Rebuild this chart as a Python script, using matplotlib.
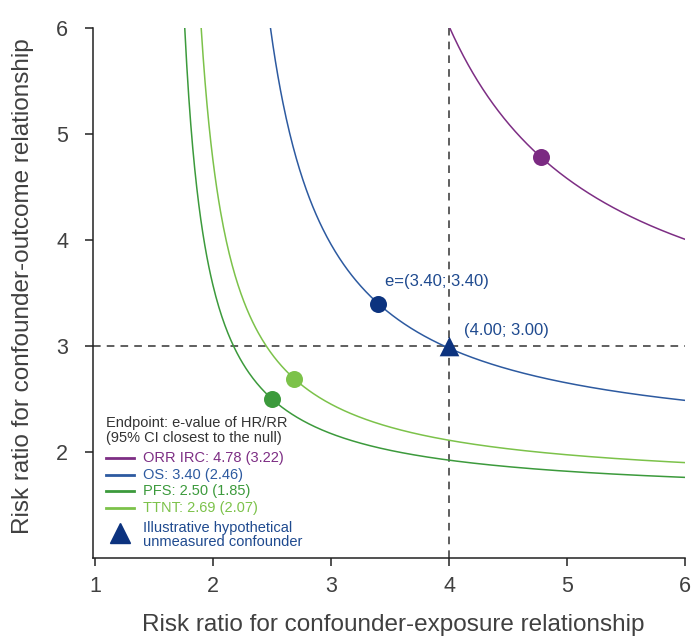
import numpy as np
import matplotlib.pyplot as plt
from matplotlib.lines import Line2D

plt.rcParams['font.family'] = ['Liberation Sans', 'DejaVu Sans']

# e-values per endpoint (point estimate, CI closest to the null)
endpoints = ["ORR IRC", "OS", "PFS", "TTNT"]
e_values = [4.78, 3.40, 2.50, 2.69]
e_ci = [3.22, 2.46, 1.85, 2.07]
line_colors = ["#7d2e84", "#2d5aa0", "#3c9a3c", "#7cc24a"]
dot_colors = ["#7b2a82", "#0c337f", "#3c9a3c", "#7cc24a"]

# illustrative hypothetical unmeasured confounder
conf_x, conf_y = 4.00, 3.00

xmax, ymax = 6, 6
W, H = 698, 638


def fpx(px, py):
    # figure pixel -> figure fraction
    return px / W, 1 - py / H


fig = plt.figure(figsize=(W / 100, H / 100), dpi=100)
ax = fig.add_axes([93 / W, 1 - 558 / H, 592 / W, 530 / H])

ax.axvline(conf_x, color="#333333", lw=1.1, ls=(0, (5, 4)), zorder=1)
ax.axhline(conf_y, color="#333333", lw=1.1, ls=(0, (5, 4)), zorder=1)

for name, e, ci, lc, dc in zip(endpoints, e_values, e_ci, line_colors, dot_colors):
    # risk ratio that this e-value explains away: RR = e^2 / (2e - 1)
    rr = e ** 2 / (2 * e - 1)
    x0 = rr * (ymax - 1) / (ymax - rr)
    xs = np.linspace(x0, xmax, 500)
    ys = rr * (xs - 1) / (xs - rr)
    ax.plot(xs, ys, color=lc, lw=1.1, zorder=2)
    ax.scatter([e], [e], s=150, color=dc, zorder=3, linewidths=0)

ax.scatter([conf_x], [conf_y], marker="^", s=200, color="#0c337f", zorder=4, linewidths=0)

os_e = e_values[1]
ax.text(os_e + 0.06, os_e + 0.21, f"e=({os_e:.2f}; {os_e:.2f})", color="#1f4a8f",
        fontsize=12, ha="left", va="center")
ax.text(conf_x + 0.13, conf_y + 0.15, f"({conf_x:.2f}; {conf_y:.2f})", color="#1f4a8f",
        fontsize=12, ha="left", va="center")

# legend, drawn by hand
leg_fs = 10.5
fig.text(*fpx(106, 423), "Endpoint: e-value of HR/RR", fontsize=leg_fs,
         color="#333333", va="center")
fig.text(*fpx(106, 438), "(95% CI closest to the null)", fontsize=leg_fs,
         color="#333333", va="center")
row_y = [458, 475, 491, 508]
for n, e, c, col, py in zip(endpoints, e_values, e_ci, line_colors, row_y):
    (x1, y1), (x2, _) = fpx(106, py), fpx(134, py)
    fig.add_artist(Line2D([x1, x2], [y1, y1], color=col, lw=2.0,
                          transform=fig.transFigure))
    fig.text(*fpx(143, py), f"{n}: {e:.2f} ({c:.2f})", fontsize=leg_fs,
             color=col, va="center")
mx, my = fpx(120, 533)
fig.add_artist(Line2D([mx], [my], marker="^", markersize=14, color="#0c337f",
                      ls="none", transform=fig.transFigure))
fig.text(*fpx(143, 535), "Illustrative hypothetical\nunmeasured confounder",
         fontsize=leg_fs, color="#1f4a8f", va="center", linespacing=1.05)

ax.set_xlim(1 - 2 / 118, xmax)
ax.set_ylim(1, ymax)
ax.set_xticks([1, 2, 3, 4, 5, 6])
ax.set_yticks([2, 3, 4, 5, 6])
ax.spines["top"].set_visible(False)
ax.spines["right"].set_visible(False)
for s in ["left", "bottom"]:
    ax.spines[s].set_color("#222222")
    ax.spines[s].set_linewidth(1.1)
ax.tick_params(colors="#222222", labelcolor="#404040", labelsize=15.5,
               length=6, width=1.1, pad=7)
ax.tick_params(axis="y", pad=12)
ax.set_xlabel("Risk ratio for confounder-exposure relationship", fontsize=17.5,
              color="#404040")
ax.set_ylabel("Risk ratio for confounder-outcome relationship", fontsize=17.5,
              color="#404040")
ax.xaxis.set_label_coords(0.508, -0.105)
ax.yaxis.set_label_coords(-0.1, 0.513)

fig.savefig("out.png", dpi=100)
